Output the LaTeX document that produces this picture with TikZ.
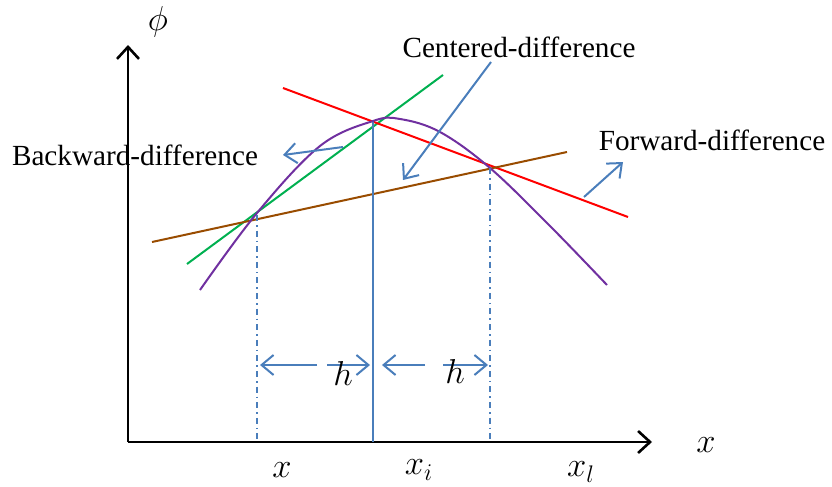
\documentclass[tikz,border=0pt]{standalone}
\usepackage{fontspec}
\setmainfont{Liberation Serif}
\usepackage{tikz}
\usetikzlibrary{arrows.meta}

\definecolor{annblue}{RGB}{74,126,187}
\definecolor{curvepurple}{RGB}{112,48,160}
\definecolor{backgreen}{RGB}{0,176,80}
\definecolor{fwdred}{RGB}{255,0,0}
\definecolor{cenbrown}{RGB}{153,76,0}

\begin{document}
\begin{tikzpicture}[
    x=0.5pt, y=-0.5pt,
    font=\fontsize{14.6}{16}\selectfont,
    axis/.style={line width=1.3pt, -{Straight Barb[length=6pt,width=11pt,line width=1.3pt]}},
    ann/.style={annblue, line width=1pt, -{Straight Barb[length=6pt,width=10pt,line width=1pt]}},
    tang/.style={line width=1pt},
    guide/.style={annblue, line width=0.8pt, dash dot},
    lbl/.style={inner sep=1pt},
    sym/.style={inner sep=1pt, font=\fontsize{17.5}{19}\selectfont}
]
\useasboundingbox (0,0) rectangle (832,487);

% axes
\coordinate (origin) at (128,442);
\coordinate (ytip) at (128,45);
\coordinate (xtip) at (652,442);
\draw[axis] (origin) -- (ytip);
\draw[axis] (origin) -- (xtip);
\node[sym] (phi) at (158,22) {$\phi$};
\node[sym] (xaxis) at (706,445) {$x$};

% grid points
\coordinate (pl) at (257,215);
\coordinate (pc) at (373,122);
\coordinate (pr) at (490,168);
\coordinate (bl) at (257,442);
\coordinate (bc) at (373,442);
\coordinate (br) at (490,442);

% tangent and secant lines
\coordinate (g1) at (187,264); \coordinate (g2) at (443,75);
\coordinate (r1) at (283,88);  \coordinate (r2) at (628,217);
\coordinate (c1) at (152,242); \coordinate (c2) at (567,152);
\draw[tang, backgreen] (g1) -- (g2);
\draw[tang, fwdred] (r1) -- (r2);
\draw[tang, cenbrown] (c1) -- (c2);

% function
\draw[tang, curvepurple] plot[smooth, tension=0.6] coordinates
    {(200,290) (257,213) (320,146) (373,121) (400,119) (440,132) (490,168) (550,226) (607,285)};

% verticals
\draw[guide] (pl) -- (bl);
\draw[guide] (pr) -- (br);
\draw[annblue, line width=1pt] (pc) -- (bc);

% h spacings
\coordinate (h1a) at (260,365); \coordinate (h1b) at (317,365);
\coordinate (h1c) at (327,365); \coordinate (h1d) at (370,365);
\coordinate (h2a) at (382,365); \coordinate (h2b) at (425,365);
\coordinate (h2c) at (443,365); \coordinate (h2d) at (488,365);
\draw[ann] (h1b) -- (h1a);
\draw[ann] (h1c) -- (h1d);
\draw[ann] (h2b) -- (h2a);
\draw[ann] (h2c) -- (h2d);
\node[sym] (hl) at (343,373) {$h$};
\node[sym] (hr) at (455,371) {$h$};

% labels
\node[lbl] (back) at (135,155) {Backward-difference};
\node[lbl] (cent) at (519,47) {Centered-difference};
\node[lbl] (fwd) at (712,140) {Forward-difference};
\coordinate (ba) at (343,147); \coordinate (bb) at (283,155);
\coordinate (ca) at (491,62);  \coordinate (cb) at (403,180);
\coordinate (fa) at (584,197); \coordinate (fb) at (623,162);
\draw[ann] (ba) -- (bb);
\draw[ann] (ca) -- (cb);
\draw[ann] (fa) -- (fb);

% abscissae
\node[sym] (xl) at (282,470) {$x$};
\node[sym] (xc) at (419,470) {$x_i$};
\node[sym] (xr) at (581,472) {$x_l$};
\end{tikzpicture}
\end{document}
